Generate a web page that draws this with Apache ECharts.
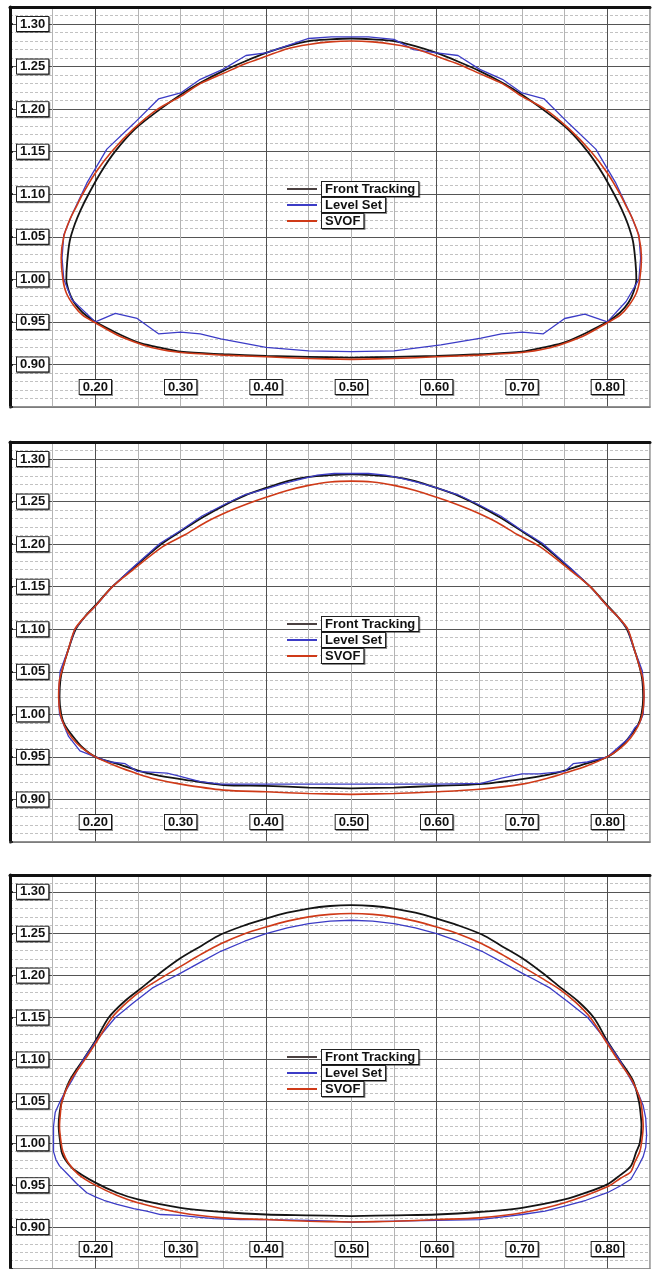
<!DOCTYPE html>
<html>
<head>
<meta charset="utf-8">
<script src="https://cdn.jsdelivr.net/npm/echarts@6/dist/echarts.min.js"></script>
<style>
  html, body { margin: 0; padding: 0; background: #fff; }
  #main { width: 659px; height: 1269px; }
</style>
</head>
<body>
<div id="main"></div>
<script>
// tick labels and legend names
var xTickLabels = [0.20, 0.30, 0.40, 0.50, 0.60, 0.70, 0.80];
var yTickLabels = [0.90, 0.95, 1.00, 1.05, 1.10, 1.15, 1.20, 1.25, 1.30];
var seriesNames = ['Front Tracking', 'Level Set', 'SVOF'];

// panel 1 (top)
var frontTracking1 = [[0.50,0.908],[0.45,0.909],[0.40,0.910],[0.35,0.912],[0.30,0.915],[0.27,0.921],[0.25,0.926],[0.225,0.937],[0.20,0.950],[0.185,0.961],[0.175,0.973],[0.169,0.986],[0.166,1.000],[0.167,1.020],[0.170,1.045],[0.176,1.065],[0.183,1.082],[0.192,1.100],[0.206,1.125],[0.223,1.150],[0.247,1.177],[0.276,1.200],[0.300,1.217],[0.323,1.231],[0.35,1.245],[0.375,1.256],[0.40,1.266],[0.425,1.274],[0.45,1.280],[0.475,1.282],[0.50,1.283],
  [0.525,1.282],[0.55,1.280],[0.575,1.274],[0.60,1.266],[0.625,1.256],[0.65,1.245],[0.677,1.231],[0.70,1.217],[0.724,1.200],[0.753,1.177],[0.777,1.150],[0.794,1.125],[0.808,1.100],[0.817,1.082],[0.824,1.065],[0.830,1.045],[0.833,1.020],[0.834,1.000],[0.831,0.986],[0.825,0.973],[0.815,0.961],[0.80,0.950],[0.775,0.937],[0.75,0.926],[0.73,0.921],[0.70,0.915],[0.65,0.912],[0.60,0.910],[0.55,0.909],[0.50,0.908]];
var levelSet1 = [[0.50,0.915],[0.45,0.916],[0.40,0.920],[0.347,0.930],[0.323,0.936],[0.30,0.938],[0.274,0.936],[0.249,0.954],[0.2235,0.960],[0.20,0.950],[0.1726,0.976],[0.163,1.000],[0.161,1.025],[0.163,1.052],[0.1726,1.076],[0.190,1.113],[0.2135,1.153],[0.245,1.183],[0.274,1.212],[0.30,1.219],[0.323,1.235],[0.35,1.247],[0.3765,1.263],[0.40,1.266],[0.45,1.283],[0.4765,1.285],[0.50,1.285],
  [0.52,1.285],[0.55,1.282],[0.573,1.270],[0.60,1.266],[0.625,1.263],[0.65,1.247],[0.677,1.235],[0.70,1.219],[0.726,1.212],[0.755,1.183],[0.7865,1.153],[0.810,1.113],[0.8274,1.076],[0.837,1.052],[0.839,1.025],[0.837,1.000],[0.822,0.974],[0.80,0.950],[0.7735,0.959],[0.75,0.954],[0.725,0.936],[0.70,0.938],[0.676,0.936],[0.652,0.931],[0.605,0.923],[0.55,0.916],[0.50,0.915]];
var svof1 = [[0.50,0.906],[0.45,0.907],[0.40,0.909],[0.35,0.911],[0.30,0.914],[0.27,0.919],[0.25,0.925],[0.225,0.935],[0.20,0.949],[0.185,0.958],[0.175,0.969],[0.166,0.984],[0.162,1.000],[0.160,1.025],[0.163,1.050],[0.170,1.070],[0.178,1.086],[0.185,1.100],[0.200,1.125],[0.219,1.150],[0.245,1.177],[0.273,1.200],[0.300,1.215],[0.323,1.230],[0.35,1.242],[0.375,1.253],[0.40,1.262],[0.425,1.271],[0.45,1.276],[0.475,1.279],[0.50,1.280],
  [0.525,1.279],[0.55,1.276],[0.575,1.271],[0.60,1.262],[0.625,1.253],[0.65,1.242],[0.677,1.230],[0.70,1.215],[0.727,1.200],[0.755,1.177],[0.781,1.150],[0.800,1.125],[0.815,1.100],[0.822,1.086],[0.830,1.070],[0.837,1.050],[0.840,1.025],[0.838,1.000],[0.834,0.984],[0.825,0.969],[0.815,0.958],[0.80,0.949],[0.775,0.935],[0.75,0.925],[0.73,0.919],[0.70,0.914],[0.65,0.911],[0.60,0.909],[0.55,0.907],[0.50,0.906]];

// panel 2 (middle)
var frontTracking2 = [[0.50,0.913],[0.45,0.914],[0.40,0.916],[0.35,0.917],[0.30,0.924],[0.27,0.929],[0.25,0.934],[0.225,0.942],[0.20,0.950],[0.185,0.961],[0.173,0.975],[0.164,0.988],[0.160,1.000],[0.158,1.020],[0.159,1.040],[0.162,1.055],[0.168,1.075],[0.177,1.100],[0.188,1.115],[0.200,1.128],[0.220,1.150],[0.241,1.169],[0.276,1.199],[0.300,1.215],[0.325,1.231],[0.35,1.245],[0.375,1.257],[0.40,1.266],[0.425,1.274],[0.45,1.279],[0.475,1.281],[0.50,1.282],
  [0.525,1.281],[0.55,1.279],[0.575,1.274],[0.60,1.266],[0.625,1.257],[0.65,1.245],[0.675,1.231],[0.70,1.215],[0.724,1.199],[0.759,1.169],[0.780,1.150],[0.800,1.128],[0.812,1.115],[0.823,1.100],[0.832,1.075],[0.838,1.055],[0.841,1.040],[0.842,1.020],[0.840,1.000],[0.836,0.988],[0.827,0.975],[0.815,0.961],[0.80,0.950],[0.775,0.942],[0.75,0.934],[0.73,0.929],[0.70,0.924],[0.65,0.918],[0.60,0.916],[0.55,0.914],[0.50,0.913]];
var levelSet2 = [[0.50,0.918],[0.45,0.918],[0.40,0.918],[0.347,0.918],[0.323,0.921],[0.296,0.928],[0.284,0.931],[0.249,0.933],[0.235,0.942],[0.2176,0.944],[0.20,0.950],[0.182,0.957],[0.1686,0.974],[0.162,0.990],[0.158,1.000],[0.157,1.020],[0.158,1.040],[0.1588,1.051],[0.163,1.062],[0.1686,1.077],[0.176,1.100],[0.188,1.115],[0.200,1.127],[0.220,1.150],[0.241,1.170],[0.276,1.201],[0.300,1.216],[0.325,1.233],[0.35,1.246],[0.375,1.258],[0.40,1.265],[0.42,1.271],[0.44,1.276],[0.46,1.281],[0.48,1.283],[0.50,1.283],
  [0.52,1.283],[0.54,1.281],[0.56,1.277],[0.58,1.272],[0.60,1.266],[0.625,1.258],[0.65,1.246],[0.675,1.233],[0.70,1.216],[0.724,1.201],[0.759,1.170],[0.780,1.150],[0.800,1.127],[0.812,1.115],[0.824,1.100],[0.831,1.077],[0.837,1.062],[0.841,1.051],[0.842,1.040],[0.843,1.020],[0.842,1.000],[0.838,0.990],[0.832,0.984],[0.825,0.972],[0.80,0.950],[0.7765,0.944],[0.76,0.942],[0.75,0.933],[0.72,0.930],[0.70,0.930],[0.676,0.925],[0.652,0.919],[0.60,0.918],[0.55,0.918],[0.50,0.918]];
var svof2 = [[0.50,0.906],[0.45,0.907],[0.40,0.909],[0.35,0.911],[0.30,0.918],[0.27,0.924],[0.25,0.930],[0.225,0.939],[0.20,0.950],[0.185,0.960],[0.173,0.972],[0.164,0.986],[0.159,1.000],[0.157,1.020],[0.158,1.040],[0.162,1.055],[0.168,1.075],[0.176,1.100],[0.188,1.115],[0.200,1.127],[0.220,1.150],[0.243,1.169],[0.279,1.197],[0.305,1.211],[0.33,1.226],[0.355,1.238],[0.38,1.248],[0.40,1.255],[0.425,1.263],[0.45,1.269],[0.475,1.273],[0.50,1.274],
  [0.525,1.273],[0.55,1.269],[0.575,1.263],[0.60,1.255],[0.62,1.248],[0.645,1.238],[0.67,1.226],[0.695,1.211],[0.721,1.197],[0.757,1.169],[0.780,1.150],[0.800,1.127],[0.812,1.115],[0.824,1.100],[0.832,1.075],[0.838,1.055],[0.842,1.040],[0.843,1.020],[0.841,1.000],[0.836,0.986],[0.827,0.972],[0.815,0.960],[0.80,0.950],[0.775,0.939],[0.75,0.931],[0.73,0.925],[0.70,0.918],[0.65,0.912],[0.60,0.909],[0.55,0.907],[0.50,0.906]];

// panel 3 (bottom)
var frontTracking3 = [[0.50,0.913],[0.45,0.914],[0.40,0.915],[0.35,0.918],[0.30,0.923],[0.25,0.933],[0.2255,0.941],[0.20,0.953],[0.1745,0.969],[0.165,0.980],[0.161,0.988],[0.159,1.000],[0.157,1.021],[0.158,1.035],[0.1608,1.050],[0.170,1.075],[0.186,1.100],[0.200,1.122],[0.2157,1.150],[0.235,1.170],[0.2549,1.186],[0.277,1.204],[0.30,1.221],[0.325,1.236],[0.347,1.249],[0.375,1.260],[0.40,1.268],[0.425,1.275],[0.45,1.280],[0.475,1.283],[0.50,1.284],
  [0.525,1.283],[0.55,1.280],[0.575,1.275],[0.60,1.268],[0.625,1.260],[0.653,1.249],[0.675,1.236],[0.70,1.221],[0.723,1.204],[0.745,1.186],[0.765,1.170],[0.784,1.150],[0.800,1.122],[0.814,1.100],[0.830,1.075],[0.837,1.050],[0.839,1.035],[0.840,1.021],[0.838,1.000],[0.834,0.990],[0.8276,0.973],[0.815,0.962],[0.80,0.951],[0.775,0.941],[0.75,0.933],[0.70,0.923],[0.65,0.918],[0.60,0.915],[0.55,0.914],[0.50,0.913]];
var levelSet3 = [[0.50,0.906],[0.476,0.907],[0.45,0.908],[0.40,0.909],[0.37,0.909],[0.339,0.910],[0.32,0.912],[0.30,0.914],[0.2764,0.915],[0.26,0.919],[0.245,0.922],[0.2255,0.927],[0.21,0.932],[0.20,0.936],[0.19,0.941],[0.178,0.952],[0.1667,0.964],[0.158,0.973],[0.154,0.980],[0.151,0.990],[0.151,1.000],[0.151,1.020],[0.153,1.037],[0.1588,1.050],[0.165,1.062],[0.1726,1.075],[0.186,1.100],[0.203,1.125],[0.2235,1.150],[0.245,1.168],[0.2666,1.185],[0.285,1.195],[0.30,1.203],[0.325,1.217],[0.347,1.229],[0.375,1.241],[0.40,1.250],[0.425,1.257],[0.45,1.262],[0.475,1.265],[0.50,1.266],
  [0.525,1.265],[0.55,1.262],[0.575,1.257],[0.60,1.250],[0.625,1.241],[0.653,1.229],[0.675,1.217],[0.70,1.203],[0.715,1.195],[0.733,1.185],[0.755,1.168],[0.777,1.150],[0.797,1.125],[0.814,1.100],[0.828,1.075],[0.836,1.060],[0.842,1.045],[0.845,1.030],[0.846,1.010],[0.845,0.995],[0.842,0.984],[0.836,0.972],[0.8276,0.957],[0.815,0.949],[0.80,0.941],[0.775,0.932],[0.75,0.925],[0.727,0.919],[0.70,0.915],[0.675,0.912],[0.65,0.909],[0.60,0.908],[0.55,0.907],[0.50,0.906]];
var svof3 = [[0.50,0.906],[0.45,0.907],[0.40,0.909],[0.35,0.911],[0.30,0.917],[0.25,0.929],[0.225,0.938],[0.20,0.950],[0.18,0.963],[0.168,0.977],[0.162,0.990],[0.160,1.000],[0.158,1.020],[0.159,1.035],[0.161,1.050],[0.171,1.075],[0.188,1.100],[0.202,1.122],[0.2196,1.150],[0.237,1.168],[0.255,1.183],[0.277,1.197],[0.30,1.211],[0.325,1.226],[0.347,1.238],[0.375,1.250],[0.40,1.258],[0.425,1.265],[0.45,1.270],[0.475,1.273],[0.50,1.274],
  [0.525,1.273],[0.55,1.270],[0.575,1.265],[0.60,1.258],[0.625,1.250],[0.653,1.238],[0.675,1.226],[0.70,1.211],[0.723,1.197],[0.745,1.183],[0.763,1.168],[0.780,1.150],[0.798,1.122],[0.812,1.100],[0.829,1.075],[0.839,1.050],[0.841,1.035],[0.842,1.020],[0.840,1.000],[0.838,0.990],[0.832,0.977],[0.8276,0.966],[0.815,0.958],[0.80,0.948],[0.75,0.929],[0.70,0.917],[0.65,0.911],[0.60,0.909],[0.55,0.907],[0.50,0.906]];

var panels = [
    [frontTracking1, levelSet1, svof1],
    [frontTracking2, levelSet2, svof2],
    [frontTracking3, levelSet3, svof3]
];
var panelTops = [7, 442, 875];
var lineColors = ['#141414', '#3c3cc6', '#cf3a18'];
var legendColors = ['#4a4040', '#3c3cc6', '#cf3a18'];
var lineWidths = [1.8, 1.3, 1.6];

var chart = echarts.init(document.getElementById('main'));

// boxed bold labels like the original plot
var boxText = {
    fontFamily: 'Liberation Sans, Arial, sans-serif',
    fontWeight: 'bold',
    fontSize: 13,
    color: '#111',
    backgroundColor: '#fff',
    borderColor: '#222',
    borderWidth: 1,
    padding: [1, 3, 0, 3],
    shadowColor: 'rgba(0,0,0,0.45)',
    shadowOffsetX: 1,
    shadowOffsetY: 1,
    shadowBlur: 0
};

var grids = [], xAxes = [], yAxes = [], legends = [], series = [];
for (var i = 0; i < panels.length; i++) {
    grids.push({
        left: 10, top: panelTops[i], width: 640, height: 400,
        show: true, backgroundColor: '#fff', borderColor: '#8a8a8a', borderWidth: 1.5
    });
    // bottom axis with labels
    xAxes.push({
        gridIndex: i, type: 'value', min: 0.10, max: 0.85, interval: 0.05,
        axisLine: { show: true, onZero: false, lineStyle: { color: '#8a8a8a', width: 1.5 } },
        axisTick: { show: false },
        axisLabel: Object.assign({
            inside: true, margin: 13,
            customValues: xTickLabels,
            formatter: function (v) { return v.toFixed(2); }
        }, boxText),
        splitLine: { show: true, lineStyle: { color: ['#b4b4b4', '#b4b4b4', '#505050', '#b4b4b4'], width: 1 } }
    });
    // top edge of the frame
    xAxes.push({
        gridIndex: i, type: 'value', position: 'top', min: 0.10, max: 0.85,
        axisLine: { show: true, onZero: false, lineStyle: { color: '#111', width: 3 } },
        axisTick: { show: false }, axisLabel: { show: false }, splitLine: { show: false }
    });
    yAxes.push({
        gridIndex: i, type: 'value', min: 0.85, max: 1.32, interval: 0.05,
        axisLine: { show: true, onZero: false, lineStyle: { color: '#111', width: 3 } },
        axisTick: { show: true, inside: true, length: 3, lineStyle: { color: '#111', width: 1.5 } },
        axisLabel: Object.assign({
            inside: true, margin: 7,
            customValues: yTickLabels,
            formatter: function (v) { return v.toFixed(2); }
        }, boxText),
        splitLine: { show: true, lineStyle: { color: '#555', width: 1 } },
        minorTick: { show: false, splitNumber: 5 },
        minorSplitLine: { show: true, lineStyle: { color: '#c2c2c2', type: [3, 2], width: 1 } }
    });
    legends.push({
        left: 287, top: panelTops[i] + 174, orient: 'vertical',
        icon: 'rect', itemWidth: 30, itemHeight: 2, itemGap: 0, padding: 0,
        selectedMode: false,
        data: seriesNames.map(function (n, k) {
            return { name: n, itemStyle: { color: legendColors[k] } };
        }),
        textStyle: Object.assign({}, boxText)
    });
    for (var s = 0; s < 3; s++) {
        series.push({
            name: seriesNames[s], type: 'line',
            xAxisIndex: 2 * i, yAxisIndex: i,
            data: panels[i][s],
            symbol: 'none',
            smooth: s === 1 ? false : 0.3,
            lineStyle: { color: lineColors[s], width: lineWidths[s] },
            itemStyle: { color: lineColors[s] },
            z: 3 + s
        });
    }
}

option = {
    animation: false,
    backgroundColor: '#fff',
    grid: grids,
    xAxis: xAxes,
    yAxis: yAxes,
    legend: legends,
    series: series
};
chart.setOption(option);
</script>
</body>
</html>
